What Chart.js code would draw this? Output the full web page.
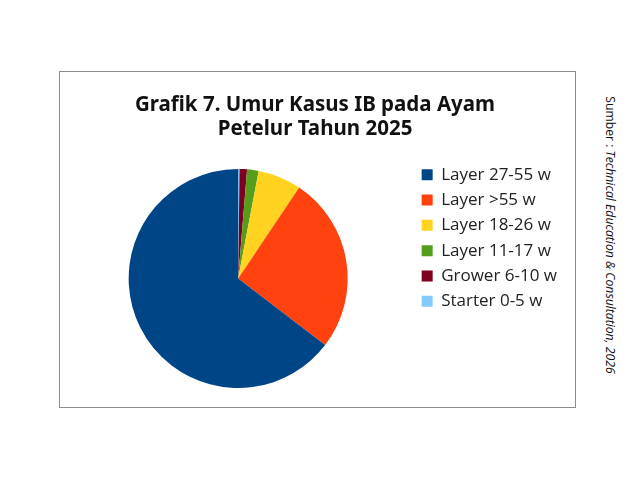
<!DOCTYPE html>
<html>
<head>
<meta charset="utf-8">
<script src="https://cdn.jsdelivr.net/npm/chart.js@4"></script>
<style>
  body { margin: 0; background: #fff; width: 640px; height: 480px; position: relative; overflow: hidden; }
  #box { position: absolute; left: 59px; top: 71px; width: 517px; height: 337px; border: 1px solid #8c8c8c; box-sizing: border-box; }
  #pieChart { display: block; }
  #source { position: absolute; left: 610px; top: 235px; transform: translate(-50%, -50%) rotate(90deg);
    white-space: nowrap; font-family: "Open Sans", sans-serif; font-size: 12.2px; color: #111; }
</style>
</head>
<body>
<div id="box"><canvas id="pieChart" width="515" height="335"></canvas></div>
<div id="source">Sumber : <i>Technical Education &amp; Consultation, 2026</i></div>
<script>
// drawn clockwise from the top, legend shown in reverse
const categories = ['Starter 0-5 w', 'Grower 6-10 w', 'Layer 11-17 w', 'Layer 18-26 w', 'Layer >55 w', 'Layer 27-55 w']
const shares = [0.2, 1.1, 1.7, 6.4, 26.0, 64.6]
const colors = ['#83caff', '#7e0021', '#579d1c', '#ffd320', '#ff420e', '#004586']

// legend sits a bit higher than the pie top in the original
const liftLegend = {
  id: 'liftLegend',
  afterLayout(chart) {
    chart.legend.top -= 11
    chart.legend.bottom -= 11
  },
}

const ctx = document.getElementById('pieChart').getContext('2d')

new Chart(ctx, {
  type: 'pie',
  data: {
    labels: categories,
    datasets: [
      {
        data: shares,
        backgroundColor: colors,
        borderWidth: 0,
      },
    ],
  },
  options: {
    responsive: false,
    animation: false,
    layout: { padding: { left: 3, right: 8, bottom: 19 } },
    plugins: {
      tooltip: { enabled: false },
      title: {
        display: true,
        text: ['Grafik 7. Umur Kasus IB pada Ayam', 'Petelur Tahun 2025'],
        color: '#111',
        font: { family: 'Noto Sans', size: 20.5, weight: 'bold', lineHeight: 1.17 },
        padding: { top: 21, bottom: 28 },
      },
      legend: {
        position: 'right',
        align: 'start',
        fullSize: false,
        reverse: true,
        labels: {
          color: '#222',
          font: { family: 'Open Sans', size: 17 },
          boxWidth: 11,
          boxHeight: 11,
          padding: 8.3,
        },
      },
    },
  },
  plugins: [liftLegend],
})
</script>
</body>
</html>
